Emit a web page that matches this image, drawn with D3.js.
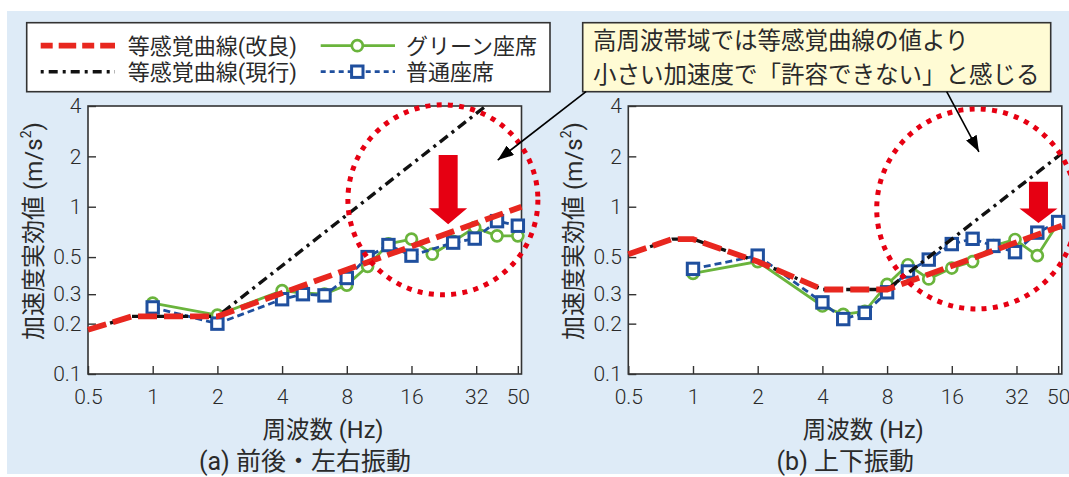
<!DOCTYPE html>
<html lang="ja">
<head>
<meta charset="utf-8">
<script src="https://cdn.jsdelivr.net/npm/d3@7"></script>
<style>
  html, body { margin: 0; padding: 0; background: #fff; }
  svg { display: block; }
  text { fill: #2a2a2a; }
</style>
</head>
<body>
<svg id="chart" width="1069" height="477"></svg>
<script>
// ---- data ----------------------------------------------------------------
// 1/3-octave band centre frequencies (Hz)
const bandFreqs      = [1, 2, 4, 5, 6.3, 8, 10, 12.5, 16, 20, 25, 31.5, 40, 50];
const bandFreqsBlueA = [1, 2, 4, 5, 6.3, 8, 10, 12.5, 16, 25, 31.5, 40, 50];

// (a) fore-aft / lateral vibration, acceleration r.m.s. (m/s²)
const greenA = [0.265, 0.225, 0.315, 0.305, 0.30, 0.34, 0.44, 0.60, 0.64, 0.52, 0.62, 0.75, 0.67, 0.67];
const blueA  = [0.25, 0.20, 0.28, 0.30, 0.295, 0.375, 0.50, 0.59, 0.51, 0.61, 0.645, 0.82, 0.77];
const revisedFreqA = [0.5, 0.8, 2, 52];
const revisedA     = [0.184, 0.221, 0.221, 1.0];
const currentFreqA = [0.5, 0.8, 2, 35.5];
const currentA     = [0.184, 0.221, 0.221, 4.0];

// (b) vertical vibration
const greenB = [0.40, 0.47, 0.255, 0.227, 0.237, 0.343, 0.45, 0.37, 0.43, 0.47, 0.585, 0.637, 0.51, 0.80];
const blueB  = [0.425, 0.51, 0.268, 0.213, 0.232, 0.308, 0.41, 0.483, 0.598, 0.643, 0.583, 0.535, 0.70, 0.81];
const revisedFreqB = [0.5, 0.8, 1, 2, 4, 8, 52];
const revisedB     = [0.52, 0.64, 0.64, 0.47, 0.32, 0.32, 0.77];
const currentFreqB = [0.5, 0.8, 1, 2, 4, 8, 52];
const currentB     = [0.52, 0.64, 0.64, 0.47, 0.32, 0.32, 2.08];

const xTickValues = [0.5, 1, 2, 4, 8, 16, 32, 50];
const xTickLabels = ["0.5", "1", "2", "4", "8", "16", "32", "50"];
const yTickValues = [0.1, 0.2, 0.3, 0.5, 1, 2, 4];
const yTickLabels = ["0.1", "0.2", "0.3", "0.5", "1", "2", "4"];

const legendLabels = ["等感覚曲線(改良)", "等感覚曲線(現行)", "グリーン座席", "普通座席"];
const calloutLines = ["高周波帯域では等感覚曲線の値より", "小さい加速度で「許容できない」と感じる"];

// ---- styles --------------------------------------------------------------
const C = {
  bg: "#deebf7",
  red: "#e8271f",
  alert: "#e60012",
  green: "#6ab43c",
  blue: "#1f4f9e",
  black: "#111",
  frame: "#333",
  callout: "#fffbd4"
};
const latin = "Roboto, 'Noto Sans CJK JP', sans-serif";
const cjk = "'Noto Sans CJK JP', sans-serif";

const svg = d3.select("#chart");
svg.append("rect").attr("x", 7).attr("y", 11).attr("width", 1062).attr("height", 463).attr("fill", C.bg);

const yTop = 106, yBottom = 374;

function drawPanel(opts) {
  const x = d3.scaleLog().domain([0.5, 52]).range([opts.left, opts.left + 433.5]);
  const y = d3.scaleLog().domain([0.1, 4]).range([yBottom, yTop]);
  const g = svg.append("g");

  g.append("rect").attr("x", opts.left).attr("y", yTop)
    .attr("width", 433.5).attr("height", yBottom - yTop).attr("fill", "#fff");

  // axes with inward ticks
  const ax = g.append("g").attr("transform", `translate(0,${yBottom})`)
    .call(d3.axisBottom(x).tickValues(xTickValues)
      .tickFormat((d, i) => xTickLabels[i]).tickSize(-8).tickPadding(15.5));
  const ay = g.append("g").attr("transform", `translate(${opts.left},0)`)
    .call(d3.axisLeft(y).tickValues(yTickValues)
      .tickFormat((d, i) => yTickLabels[i]).tickSize(-8).tickPadding(6.5));
  [ax, ay].forEach(a => {
    a.select(".domain").remove();
    a.selectAll(".tick line").attr("stroke", C.frame).attr("stroke-width", 1.4);
    a.selectAll(".tick text").attr("font-family", latin).attr("font-weight", 300)
      .attr("font-size", 21).attr("fill", "#2a2a2a");
  });

  g.append("rect").attr("x", opts.left).attr("y", yTop)
    .attr("width", 433.5).attr("height", yBottom - yTop)
    .attr("fill", "none").attr("stroke", C.frame).attr("stroke-width", 1.6);

  const line = d3.line().x(d => x(d[0])).y(d => y(d[1]));
  const pairs = (fs, vs) => fs.map((f, i) => [f, vs[i]]);

  // green seats: solid line with open circles
  const gp = pairs(bandFreqs, opts.green);
  g.append("path").datum(gp).attr("d", line).attr("fill", "none")
    .attr("stroke", C.green).attr("stroke-width", 2.8);
  g.selectAll(".gdot").data(gp).join("circle").attr("class", "gdot")
    .attr("cx", d => x(d[0])).attr("cy", d => y(d[1])).attr("r", 5.5)
    .attr("fill", "#fff").attr("stroke", C.green).attr("stroke-width", 2.7);

  // ordinary seats: dashed line with open squares
  const bp = pairs(opts.blueFreqs, opts.blue);
  g.append("path").datum(bp).attr("d", line).attr("fill", "none")
    .attr("stroke", C.blue).attr("stroke-width", 2.8).attr("stroke-dasharray", "7,4");
  g.selectAll(".bsq").data(bp).join("rect").attr("class", "bsq")
    .attr("x", d => x(d[0]) - 5.7).attr("y", d => y(d[1]) - 5.7)
    .attr("width", 11.4).attr("height", 11.4)
    .attr("fill", "#fff").attr("stroke", C.blue).attr("stroke-width", 3);

  // equal-sensation curves
  g.append("path").datum(pairs(opts.currentFreq, opts.current)).attr("d", line)
    .attr("fill", "none").attr("stroke", C.black).attr("stroke-width", 3.4)
    .attr("stroke-dasharray", "10,5,3,5");
  g.append("path").datum(pairs(opts.revisedFreq, opts.revised)).attr("d", line)
    .attr("fill", "none").attr("stroke", C.red).attr("stroke-width", 5.8)
    .attr("stroke-dasharray", "19,7");

  // highlighted high-frequency region
  g.append("circle").attr("cx", x(opts.ring[0])).attr("cy", y(opts.ring[1])).attr("r", opts.ring[2])
    .attr("fill", "none").attr("stroke", C.alert).attr("stroke-width", 5)
    .attr("stroke-dasharray", "5,6.3");

  // downward block arrow
  const ax0 = x(opts.drop[0]), top = y(opts.drop[1]), tip = y(opts.drop[2]);
  const headLen = opts.drop[3];
  g.append("path")
    .attr("d", `M${ax0 - 9.5},${top} H${ax0 + 9.5} V${tip - headLen} H${ax0 + 19} L${ax0},${tip} L${ax0 - 19},${tip - headLen} H${ax0 - 9.5} Z`)
    .attr("fill", C.alert);

  // axis titles
  g.append("text").attr("x", opts.left + 235).attr("y", 438)
    .attr("text-anchor", "middle").attr("font-family", latin).attr("font-size", 23.5)
    .text("周波数 (Hz)");
  g.append("text").attr("x", opts.left + 217).attr("y", 470)
    .attr("text-anchor", "middle").attr("font-family", latin).attr("font-size", 25)
    .text(opts.caption);
  const yl = g.append("text")
    .attr("transform", `translate(${opts.left - 54},231) rotate(-90)`)
    .attr("text-anchor", "middle").attr("dominant-baseline", "central")
    .attr("font-family", latin).attr("font-size", 24);
  yl.append("tspan").text("加速度実効値 (m/s");
  yl.append("tspan").attr("baseline-shift", "super").attr("font-size", 14).text("2");
  yl.append("tspan").text(")");

  return { x, y };
}

const pa = drawPanel({
  left: 88, caption: "(a) 前後・左右振動",
  green: greenA, blue: blueA, blueFreqs: bandFreqsBlueA,
  revisedFreq: revisedFreqA, revised: revisedA,
  currentFreq: currentFreqA, current: currentA,
  ring: [22.4, 1.1, 95], drop: [23.7, 2.04, 0.785, 16]
});
const pb = drawPanel({
  left: 628.3, caption: "(b) 上下振動",
  green: greenB, blue: blueB, blueFreqs: bandFreqs,
  revisedFreq: revisedFreqB, revised: revisedB,
  currentFreq: currentFreqB, current: currentB,
  ring: [20.9, 0.97, 100], drop: [40.5, 1.41, 0.80, 14.5]
});

// ---- legend --------------------------------------------------------------
const lg = svg.append("g");
lg.append("rect").attr("x", 26.7).attr("y", 22.7).attr("width", 523.3).attr("height", 69)
  .attr("fill", "#fff").attr("stroke", C.frame).attr("stroke-width", 1.6);
const rowY = [45.7, 71.7];
lg.append("line").attr("x1", 40.7).attr("x2", 115).attr("y1", rowY[0]).attr("y2", rowY[0])
  .attr("stroke", C.red).attr("stroke-width", 5.8).attr("stroke-dasharray", "12,6,17.5,6");
lg.append("line").attr("x1", 40.7).attr("x2", 115).attr("y1", rowY[1]).attr("y2", rowY[1])
  .attr("stroke", C.black).attr("stroke-width", 3.4).attr("stroke-dasharray", "3,5,9,5");
lg.append("line").attr("x1", 320.7).attr("x2", 395).attr("y1", rowY[0]).attr("y2", rowY[0])
  .attr("stroke", C.green).attr("stroke-width", 2.8);
lg.append("circle").attr("cx", 357.3).attr("cy", rowY[0]).attr("r", 5.5)
  .attr("fill", "#fff").attr("stroke", C.green).attr("stroke-width", 2.7);
lg.append("line").attr("x1", 320.7).attr("x2", 395).attr("y1", rowY[1]).attr("y2", rowY[1])
  .attr("stroke", C.blue).attr("stroke-width", 2.8).attr("stroke-dasharray", "5,4");
lg.append("rect").attr("x", 357.3 - 5.7).attr("y", rowY[1] - 5.7).attr("width", 11.4).attr("height", 11.4)
  .attr("fill", "#fff").attr("stroke", C.blue).attr("stroke-width", 3);
[[127.7, rowY[0], 0], [127.7, rowY[1], 1], [406, rowY[0], 2], [406, rowY[1], 3]].forEach(([lx, ly, i]) => {
  lg.append("text").attr("x", lx).attr("y", ly).attr("dy", "0.36em")
    .attr("font-family", latin).attr("font-size", 22).text(legendLabels[i]);
});

// ---- callout -------------------------------------------------------------
const co = svg.append("g");
co.append("rect").attr("x", 582.7).attr("y", 22.7).attr("width", 468).attr("height", 69)
  .attr("fill", C.callout).attr("stroke", C.frame).attr("stroke-width", 1.6);
calloutLines.forEach((t, i) => {
  co.append("text").attr("x", 593).attr("y", 49 + i * 34)
    .attr("font-family", cjk).attr("font-size", 23.5).text(t);
});

svg.append("defs").append("marker").attr("id", "head")
  .attr("viewBox", "0 0 16 12").attr("refX", 16).attr("refY", 6)
  .attr("markerWidth", 16).attr("markerHeight", 12).attr("markerUnits", "userSpaceOnUse")
  .attr("orient", "auto")
  .append("path").attr("d", "M0,0 L16,6 L0,12 Z").attr("fill", "#000");

// pointers from the callout into each panel's highlighted region
[[586, pa, [40.3, 1.9]], [946.7, pb, [21.4, 2.13]]].forEach(([sx, p, tgt]) => {
  co.append("line").attr("x1", sx).attr("y1", 91.7)
    .attr("x2", p.x(tgt[0])).attr("y2", p.y(tgt[1]))
    .attr("stroke", "#000").attr("stroke-width", 1.6).attr("marker-end", "url(#head)");
});
</script>
</body>
</html>
